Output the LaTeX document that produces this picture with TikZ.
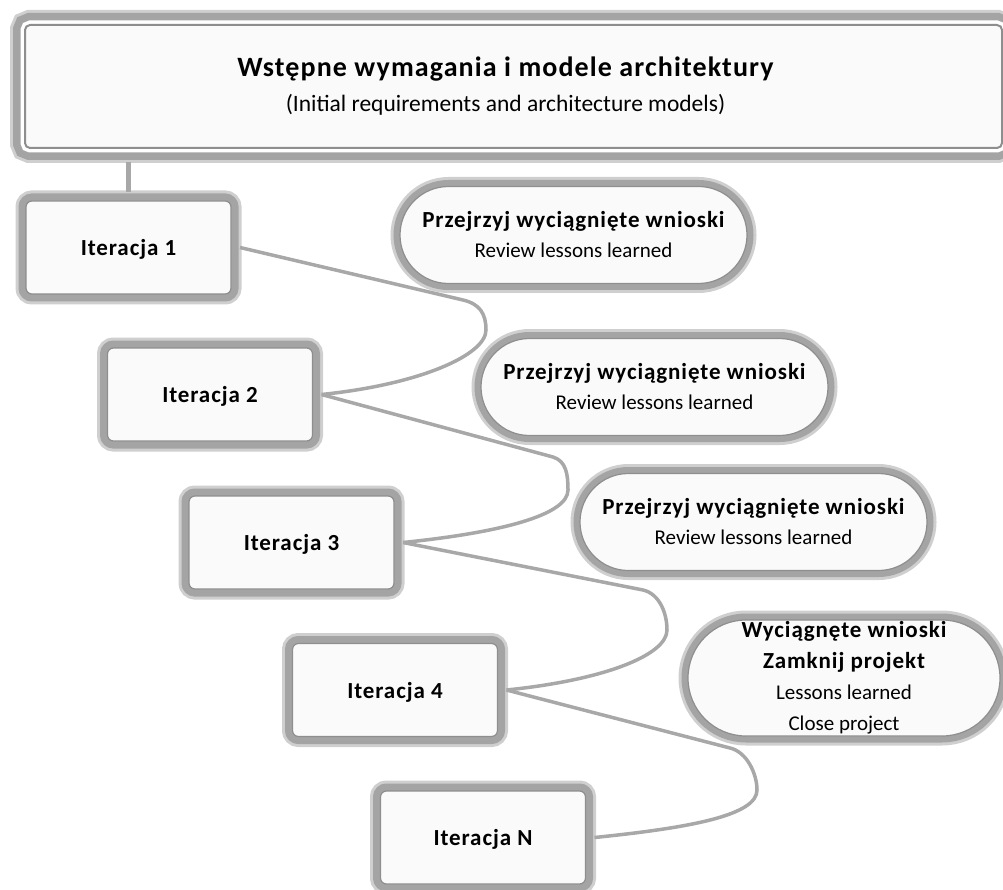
\documentclass[tikz,border=0pt]{standalone}
\usepackage{fontspec}
\setmainfont{Carlito}[BoldFeatures={LetterSpace=4}]
\usetikzlibrary{shapes.misc,calc}
\definecolor{boxfill}{HTML}{FAFAFA}
\definecolor{band}{HTML}{A4A4A4}
\definecolor{bandsoft}{HTML}{CFCFCF}
\definecolor{edge}{HTML}{8E8E8E}
\definecolor{wire}{HTML}{A8A8A8}
\begin{document}
\begin{tikzpicture}[x=1pt,y=-1pt,
  iterbox/.style={rectangle, rounded corners=6pt, minimum width=205pt, minimum height=93pt,
    fill=boxfill, draw=edge, line width=1.2pt,
    preaction={draw=bandsoft, line width=21pt},
    preaction={draw=band, line width=15pt},
    outer sep=9pt, inner sep=0pt, text depth=0pt, font=\fontsize{23}{28}\selectfont\bfseries},
  pill/.style={rounded rectangle, minimum width=347pt, minimum height=97pt,
    fill=boxfill, draw=edge, line width=1.2pt,
    preaction={draw=bandsoft, line width=19pt},
    preaction={draw=band, line width=13pt},
    outer sep=8pt, inner sep=0pt, align=center, font=\fontsize{21}{30}\selectfont},
  topbox/.style={rectangle, rounded corners=5pt, minimum width=977pt, minimum height=123pt,
    fill=boxfill, draw=edge, line width=2pt,
    preaction={draw=bandsoft, line width=30pt},
    preaction={draw=band, line width=24pt},
    preaction={draw=white, line width=9pt},
    outer sep=14pt, inner sep=0pt, align=center},
  wire/.style={draw=wire, line width=3.5pt, line join=round},
  stem/.style={draw=wire, line width=5pt}
]
\useasboundingbox (0,0) rectangle (1003,890);

% header box
\node[topbox] (top) at (513.5,86.5)
  {{\fontsize{28}{34}\selectfont\bfseries Wstępne wymagania i modele architektury}\hspace*{16pt}\\[12pt]
   {\fontsize{23.5}{28}\selectfont (Initial requirements and architecture models)}\hspace*{16pt}};

% iterations
\node[iterbox] (i1) at (128.5,247.5) {Iteracja 1};
\node[iterbox] (i2) at (210,394.5) {Iteracja 2};
\node[iterbox] (i3) at (291.5,542.5) {Iteracja 3};
\node[iterbox] (i4) at (395,690) {Iteracja 4};
\node[iterbox] (iN) at (483,837.5) {Iteracja N};

% lessons learned
\node[pill] (p1) at (573.5,235) {{\fontsize{23}{30}\selectfont\bfseries Przejrzyj wyciągnięte wnioski}\\Review lessons learned};
\node[pill] (p2) at (654.5,387) {{\fontsize{23}{30}\selectfont\bfseries Przejrzyj wyciągnięte wnioski}\\Review lessons learned};
\node[pill] (p3) at (753.5,522) {{\fontsize{23}{30}\selectfont\bfseries Przejrzyj wyciągnięte wnioski}\\Review lessons learned};
\node[pill, minimum width=312pt, minimum height=116pt, font=\fontsize{21}{31}\selectfont] (p4) at (844,678)
  {{\fontsize{23}{31}\selectfont\bfseries Wyciągnęte wnioski}\\{\fontsize{23}{31}\selectfont\bfseries Zamknij projekt}\\Lessons learned\\Close project};

% bends of the connectors
\coordinate (P1) at (463,300); \coordinate (R1) at (486,330);
\coordinate (P2) at (553,457); \coordinate (R2) at (568,490);
\coordinate (P3) at (643,590); \coordinate (R3) at (667,630);
\coordinate (P4) at (730,748); \coordinate (R4) at (757,790);

% connectors
\draw[stem] (top.south -| i1.north) -- (i1.north);
\draw[wire] (i1.east) -- (P1) .. controls ($(P1)+(17,4)$) and ($(R1)+(0,-16)$) .. (R1)
  .. controls ($(R1)+(0,25)$) and ($(i2.east)+(98,-10)$) .. (i2.east);
\draw[wire] (i2.east) -- (P2) .. controls ($(P2)+(13,4)$) and ($(R2)+(0,-16)$) .. (R2)
  .. controls ($(R2)+(0,25)$) and ($(i3.east)+(98,-10)$) .. (i3.east);
\draw[wire] (i3.east) -- (P3) .. controls ($(P3)+(17,4)$) and ($(R3)+(0,-16)$) .. (R3)
  .. controls ($(R3)+(0,25)$) and ($(i4.east)+(98,-10)$) .. (i4.east);
\draw[wire] (i4.east) -- (P4) .. controls ($(P4)+(17,4)$) and ($(R4)+(0,-16)$) .. (R4)
  .. controls ($(R4)+(0,25)$) and ($(iN.east)+(98,-10)$) .. (iN.east);
\end{tikzpicture}
\end{document}
